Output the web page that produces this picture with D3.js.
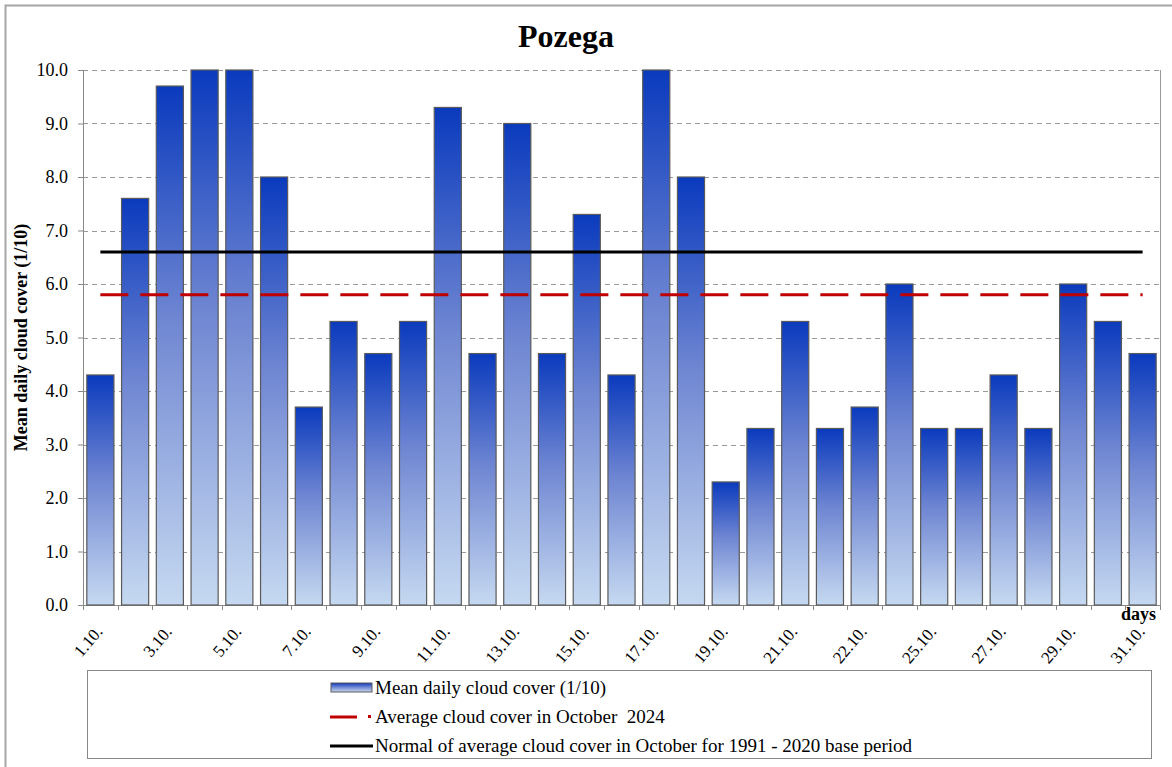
<!DOCTYPE html>
<html>
<head>
<meta charset="utf-8">
<script src="https://cdn.jsdelivr.net/npm/d3@7"></script>
<style>
  body { margin: 0; background: #fff; }
  svg { display: block; }
</style>
</head>
<body>
<div id="chart"></div>
<script>
var fontFamily = "Liberation Serif, Times New Roman, serif";

// data
var days = d3.range(1, 32).map(function(d) { return d + ".10."; });
var cloudCover = [4.3, 7.6, 9.7, 10.0, 10.0, 8.0, 3.7, 5.3, 4.7, 5.3,
                  9.3, 4.7, 9.0, 4.7, 7.3, 4.3, 10.0, 8.0, 2.3, 3.3,
                  5.3, 3.3, 3.7, 6.0, 3.3, 3.3, 4.3, 3.3, 6.0, 5.3, 4.7];
// labels shown under every second day, as printed on the original
var xTickLabels = ["1.10.", "3.10.", "5.10.", "7.10.", "9.10.", "11.10.", "13.10.", "15.10.",
                   "17.10.", "19.10.", "21.10.", "22.10.", "25.10.", "27.10.", "29.10.", "31.10."];
var yTicks = [0, 1, 2, 3, 4, 5, 6, 7, 8, 9, 10];
var monthAverage = 5.8;
var normalAverage = 6.6;
var legendLabels = ["Mean daily cloud cover (1/10)",
                    "Average cloud cover in October  2024",
                    "Normal of average cloud cover in October for 1991 - 2020 base period"];

var width = 1172, height = 767;
var plot = {left: 83, right: 1160, top: 70, bottom: 605};

var svg = d3.select("#chart").append("svg")
    .attr("width", width)
    .attr("height", height)
    .attr("font-family", fontFamily);

// outer chart border
svg.append("rect")
    .attr("x", 5.5).attr("y", 5.5)
    .attr("width", 1175).attr("height", 780)
    .attr("fill", "none")
    .attr("stroke", "#a6a6a6")
    .attr("stroke-width", 2);

// gradient for the bars
var grad = svg.append("defs").append("linearGradient")
    .attr("id", "barGrad")
    .attr("x1", 0).attr("y1", 0).attr("x2", 0).attr("y2", 1);
grad.append("stop").attr("offset", "0%").attr("stop-color", "#0a3abd");
grad.append("stop").attr("offset", "45%").attr("stop-color", "#6f86d2");
grad.append("stop").attr("offset", "100%").attr("stop-color", "#c6d9f1");

// scales
var x = d3.scaleBand()
    .domain(days)
    .range([plot.left, plot.right])
    .padding(0);
var y = d3.scaleLinear()
    .domain([0, 10])
    .range([plot.bottom, plot.top]);

var step = x.step();
var inset = step * 0.11;

// gridlines
svg.append("g")
  .selectAll("line")
  .data(yTicks.filter(function(d) { return d > 0; }))
  .enter()
  .append("line")
    .attr("x1", plot.left).attr("x2", plot.right)
    .attr("y1", function(d) { return Math.round(y(d)) + 0.5; })
    .attr("y2", function(d) { return Math.round(y(d)) + 0.5; })
    .attr("stroke", "#999")
    .attr("stroke-dasharray", "5,4");

// right border of plot area
svg.append("line")
    .attr("x1", plot.right + 0.5).attr("x2", plot.right + 0.5)
    .attr("y1", plot.top).attr("y2", plot.bottom)
    .attr("stroke", "#999");

// Y axis
var yAxis = svg.append("g")
    .attr("transform", "translate(" + plot.left + ",0)")
    .call(d3.axisLeft(y).tickValues(yTicks).tickSize(5).tickPadding(10)
      .tickFormat(d3.format(".1f")));
yAxis.attr("font-family", fontFamily);
yAxis.selectAll("path, line").attr("stroke", "#888");
yAxis.selectAll("text")
    .attr("font-family", fontFamily)
    .attr("font-size", 18)
    .attr("fill", "#000");

// X axis: ticks at the band boundaries
var xAxisG = svg.append("g");
xAxisG.append("line")
    .attr("x1", plot.left).attr("x2", plot.right)
    .attr("y1", plot.bottom + 0.5).attr("y2", plot.bottom + 0.5)
    .attr("stroke", "#888");
xAxisG.selectAll(".tick")
  .data(d3.range(days.length + 1))
  .enter()
  .append("line")
    .attr("x1", function(i) { return Math.round(plot.left + i * step) + 0.5; })
    .attr("x2", function(i) { return Math.round(plot.left + i * step) + 0.5; })
    .attr("y1", plot.bottom).attr("y2", plot.bottom + 5)
    .attr("stroke", "#888");

xAxisG.selectAll("text")
  .data(xTickLabels)
  .enter()
  .append("text")
    .attr("transform", function(d, i) {
      var cx = x(days[i * 2]) + step / 2 + 3;
      return "translate(" + cx + ",632) rotate(-50)";
    })
    .attr("text-anchor", "end")
    .attr("font-family", fontFamily)
    .attr("font-size", 17)
    .text(function(d) { return d; });

svg.append("text")
    .attr("x", 1156).attr("y", 620)
    .attr("text-anchor", "end")
    .attr("font-family", fontFamily)
    .attr("font-size", 18)
    .attr("font-weight", "bold")
    .text("days");

// bars
svg.append("g")
  .selectAll("rect")
  .data(cloudCover)
  .enter()
  .append("rect")
    .attr("x", function(d, i) { return x(days[i]) + inset; })
    .attr("width", step - 2 * inset)
    .attr("y", function(d) { return y(d); })
    .attr("height", function(d) { return y(0) - y(d); })
    .attr("fill", "url(#barGrad)")
    .attr("stroke", "#5a5a5a")
    .attr("stroke-width", 1.2);

// average lines
var xFirst = x(days[0]) + step / 2;
var xLast = x(days[days.length - 1]) + step / 2;
svg.append("line")
    .attr("x1", xFirst).attr("x2", xLast)
    .attr("y1", y(normalAverage)).attr("y2", y(normalAverage))
    .attr("stroke", "#000")
    .attr("stroke-width", 3);
svg.append("line")
    .attr("x1", xFirst).attr("x2", xLast)
    .attr("y1", y(monthAverage)).attr("y2", y(monthAverage))
    .attr("stroke", "#c00000")
    .attr("stroke-width", 3)
    .attr("stroke-dasharray", "28,12");

// title
svg.append("text")
    .attr("x", 566).attr("y", 47)
    .attr("text-anchor", "middle")
    .attr("font-family", fontFamily)
    .attr("font-size", 32)
    .attr("font-weight", "bold")
    .text("Pozega");

// y axis title
svg.append("text")
    .attr("transform", "translate(27," + ((plot.top + plot.bottom) / 2) + ") rotate(-90)")
    .attr("text-anchor", "middle")
    .attr("font-family", fontFamily)
    .attr("font-size", 18)
    .attr("font-weight", "bold")
    .text("Mean daily cloud cover (1/10)");

// legend
var legend = svg.append("g");
legend.append("rect")
    .attr("x", 87.5).attr("y", 670.5)
    .attr("width", 1064).attr("height", 88)
    .attr("fill", "#fff")
    .attr("stroke", "#888");

var rowY = [688, 717, 746];
legend.append("rect")
    .attr("x", 331).attr("y", rowY[0] - 5)
    .attr("width", 41).attr("height", 9)
    .attr("fill", "url(#barGrad)")
    .attr("stroke", "#5a5a5a");
legend.append("line")
    .attr("x1", 330).attr("x2", 357)
    .attr("y1", rowY[1]).attr("y2", rowY[1])
    .attr("stroke", "#c00000").attr("stroke-width", 3);
legend.append("rect")
    .attr("x", 368).attr("y", rowY[1] - 2)
    .attr("width", 3).attr("height", 3)
    .attr("fill", "#c00000");
legend.append("line")
    .attr("x1", 330).attr("x2", 373)
    .attr("y1", rowY[2]).attr("y2", rowY[2])
    .attr("stroke", "#000").attr("stroke-width", 3);

legend.selectAll("text")
  .data(legendLabels)
  .enter()
  .append("text")
    .attr("x", 375)
    .attr("y", function(d, i) { return rowY[i] + 6; })
    .attr("font-family", fontFamily)
    .attr("font-size", 19)
    .attr("xml:space", "preserve")
    .style("white-space", "pre")
    .text(function(d) { return d; });
</script>
</body>
</html>
